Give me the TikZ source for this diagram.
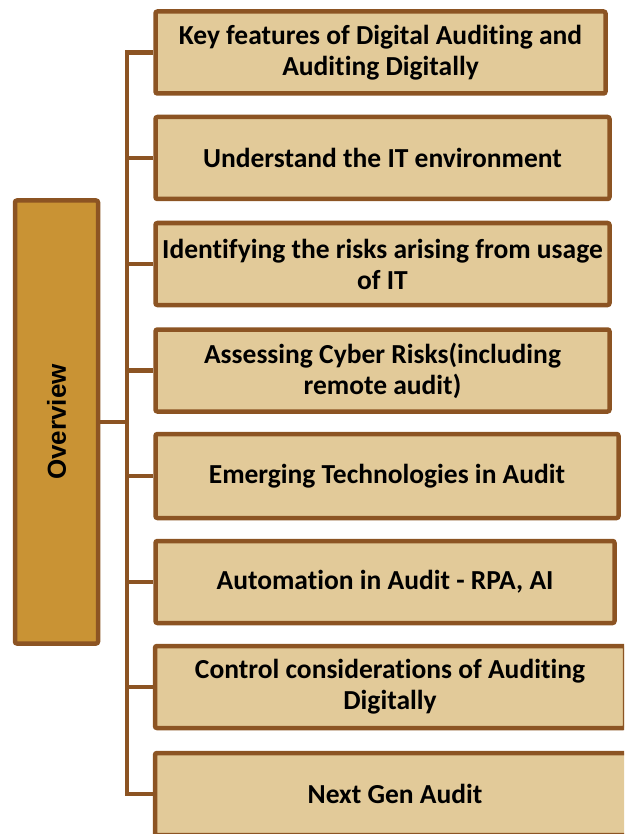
\documentclass[tikz,border=0pt]{standalone}
\usepackage{fontspec}
\setmainfont{Carlito}[Ligatures=NoCommon]
\newfontfamily\arialbold{Liberation Sans}
\definecolor{boxfill}{RGB}{226,202,153}
\definecolor{ovfill}{RGB}{201,147,52}
\definecolor{brownline}{RGB}{140,84,35}
\begin{document}
\begin{tikzpicture}[x=1pt,y=-1pt,
  item/.style={draw=brownline, fill=boxfill, line width=4.5pt, rounded corners=2pt,
    minimum height=82pt, inner sep=0pt, align=center,
    font=\fontsize{27.5}{31}\selectfont\bfseries},
  ovbox/.style={draw=brownline, fill=ovfill, line width=4.5pt, rounded corners=2pt,
    minimum width=83pt, minimum height=443pt, inner sep=0pt},
  conn/.style={draw=brownline, line width=4.5pt}]
\useasboundingbox (0,0) rectangle (624,834);
\clip (0,0) rectangle (624,834);
\node[ovbox] (ov) at (56.5,422) {};
\node[rotate=90, font=\arialbold\fontsize{26}{30}\selectfont\bfseries] (ovt) at (ov.center) {Overview};
\node[item, minimum width=450pt] (b1) at (380.5,52.5) {Key features of Digital Auditing and\\Auditing Digitally};
\node[item, minimum width=454pt] (b2) at (382.5,158) {Understand the IT environment};
\node[item, minimum width=454pt] (b3) at (382.5,264) {Identifying the risks arising from usage\\of IT};
\node[item, minimum width=454pt] (b4) at (382.5,370.5) {Assessing Cyber Risks(including\\remote audit)};
\node[item, minimum width=463pt, minimum height=84pt] (b5) at (387,476) {Emerging Technologies in Audit};
\node[item, minimum width=459pt] (b6) at (385,582) {Automation in Audit - RPA, AI};
\node[item, minimum width=470pt] (b7) at (390,687) {Control considerations of Auditing\\Digitally};
\node[item, minimum width=480pt] (b8) at (395,794) {Next Gen Audit};
\coordinate (t) at (127,0);
\draw[conn] (b1.west) -- (b1.west -| t) -- (b8.west -| t) -- (b8.west);
\foreach \n in {b2,b3,b4,b5,b6,b7} \draw[conn] (\n.west) -- (\n.west -| t);
\draw[conn] (ov.east) -- (ov.east -| t);
\end{tikzpicture}
\end{document}
